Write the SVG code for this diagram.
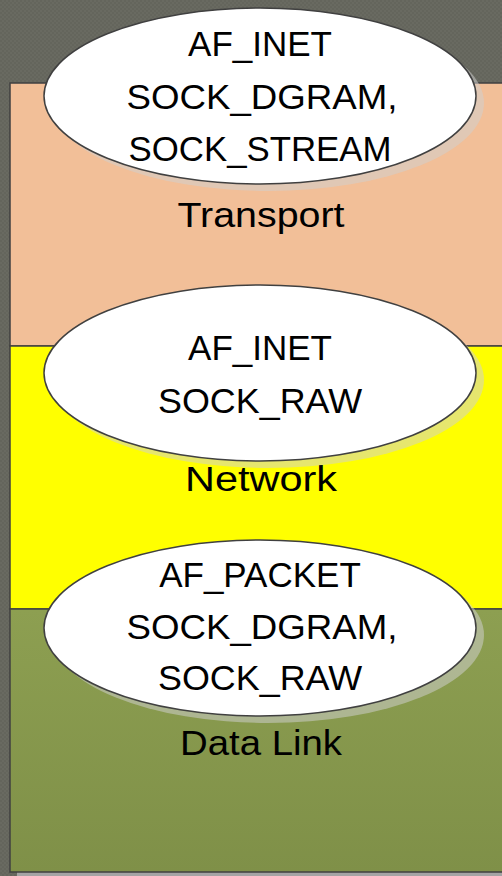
<svg xmlns="http://www.w3.org/2000/svg" width="502" height="876" viewBox="0 0 502 876">
  <defs>
    <pattern id="bgp" width="4" height="4" patternUnits="userSpaceOnUse">
      <rect width="4" height="4" fill="#696a61"/>
      <rect width="2" height="2" fill="#64655c"/>
      <rect x="2" y="2" width="2" height="2" fill="#64655c"/>
    </pattern>
    <linearGradient id="dl" x1="0" y1="0" x2="0" y2="1">
      <stop offset="0" stop-color="#8d9f51"/>
      <stop offset="1" stop-color="#7f9048"/>
    </linearGradient>
    <style>
      .layer { stroke: #404040; stroke-width: 1.5; }
      .oval { fill: #ffffff; stroke: #404040; stroke-width: 1.5; }
      .shadow { fill: #d0d0d0; fill-opacity: 0.53; }
      .t { font-family: "Liberation Sans", Arial, sans-serif; font-size: 35px; fill: #000000; text-anchor: middle; }
    </style>
  </defs>
  <rect width="502" height="876" fill="url(#bgp)"/>
  <rect x="17" y="872" width="485" height="4" fill="#a4a4a4"/>

  <g id="transport">
    <rect class="layer" x="10" y="83" width="500" height="263" fill="#f2bf98"/>
    <text class="t" x="261" y="227" textLength="167" lengthAdjust="spacingAndGlyphs">Transport</text>
  </g>
  <g id="network">
    <rect class="layer" x="10" y="346" width="500" height="263" fill="#ffff00"/>
    <text class="t" x="261" y="491" textLength="152" lengthAdjust="spacingAndGlyphs">Network</text>
  </g>
  <g id="datalink">
    <rect class="layer" x="10" y="609" width="500" height="263" fill="url(#dl)"/>
    <text class="t" x="261" y="755" textLength="162" lengthAdjust="spacingAndGlyphs">Data Link</text>
  </g>

  <g id="oval-inet-stream">
    <ellipse class="shadow" cx="268" cy="103" rx="216" ry="88"/>
    <ellipse class="oval" cx="260" cy="96" rx="216" ry="88"/>
    <text class="t" x="260" y="56">AF_INET</text>
    <text class="t" x="262" y="109" textLength="271" lengthAdjust="spacingAndGlyphs">SOCK_DGRAM,</text>
    <text class="t" x="260" y="161" textLength="263" lengthAdjust="spacingAndGlyphs">SOCK_STREAM</text>
  </g>
  <g id="oval-inet-raw">
    <ellipse class="shadow" cx="268" cy="380" rx="216" ry="88"/>
    <ellipse class="oval" cx="260" cy="373" rx="216" ry="88"/>
    <text class="t" x="260" y="360">AF_INET</text>
    <text class="t" x="260" y="413" textLength="204" lengthAdjust="spacingAndGlyphs">SOCK_RAW</text>
  </g>
  <g id="oval-packet">
    <ellipse class="shadow" cx="268" cy="635" rx="216" ry="88"/>
    <ellipse class="oval" cx="260" cy="628" rx="216" ry="88"/>
    <text class="t" x="260" y="587">AF_PACKET</text>
    <text class="t" x="262" y="639" textLength="271" lengthAdjust="spacingAndGlyphs">SOCK_DGRAM,</text>
    <text class="t" x="260" y="690" textLength="204" lengthAdjust="spacingAndGlyphs">SOCK_RAW</text>
  </g>
</svg>
